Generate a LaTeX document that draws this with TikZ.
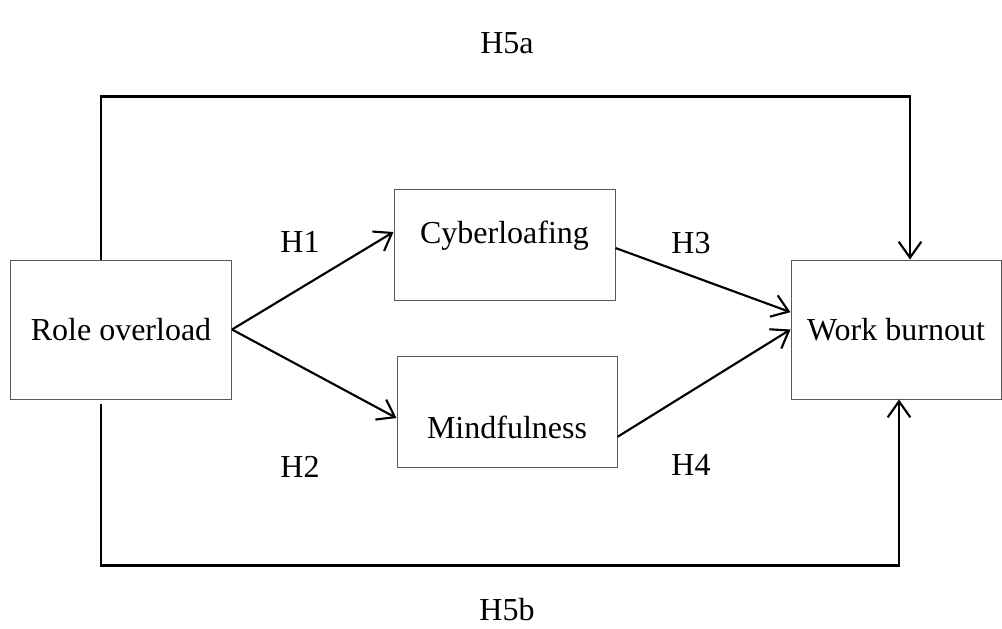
\documentclass[tikz,border=0pt]{standalone}
\usepackage{fontspec}
\setmainfont{Liberation Serif}
\usetikzlibrary{arrows.meta}

\begin{document}
\begin{tikzpicture}[x=0.75pt, y=-0.75pt,
    font=\fontsize{24}{28}\selectfont,
    box/.style={draw=black!65, line width=0.75pt, rectangle, align=center},
    link/.style={line width=1.6pt, -{Straight Barb[length=12pt, width=17pt, line width=1.6pt]}},
    rail/.style={line width=1.6pt}]
  \useasboundingbox (0,0) rectangle (1002,628);

  % Draw the variables
  \node[box, minimum width=165.75pt, minimum height=104.25pt] (ro) at (121,329.5) {Role overload};
  \node[box, minimum width=165.75pt, minimum height=83.25pt,
        label={[yshift=6.75pt]center:Cyberloafing}] (cy) at (504.5,245) {};
  \node[box, minimum width=165pt, minimum height=83.25pt,
        label={[yshift=-12pt]center:Mindfulness}] (mi) at (507,411.5) {};
  \node[box, minimum width=157.5pt, minimum height=104.25pt] (wb) at (896,329.5) {Work burnout};

  % Draw the indirect paths
  \draw[link] (ro.east) -- ([yshift=9.75pt]cy.west);
  \draw[link] (ro.east) -- ([yshift=-4.9pt]mi.west);
  \draw[link] ([yshift=-2.25pt]cy.east) -- ([yshift=13pt]wb.west);
  \draw[link] ([yshift=-19pt]mi.east) -- (wb.west);

  % Draw the direct paths
  \draw[link] ([xshift=-15pt]ro.north) -- ++(0,-163) -| ([xshift=10.5pt]wb.north);
  \draw[link] ([xshift=-15pt, yshift=-3pt]ro.south) -- ++(0,162) -| ([xshift=2.25pt]wb.south);

  % Add the hypothesis labels
  \node (h1) at (300,242) {H1};
  \node (h2) at (300,467) {H2};
  \node (h3) at (691,243) {H3};
  \node (h4) at (691,465) {H4};
  \node (h5a) at (507,43) {H5a};
  \node (h5b) at (507,610) {H5b};
\end{tikzpicture}
\end{document}
